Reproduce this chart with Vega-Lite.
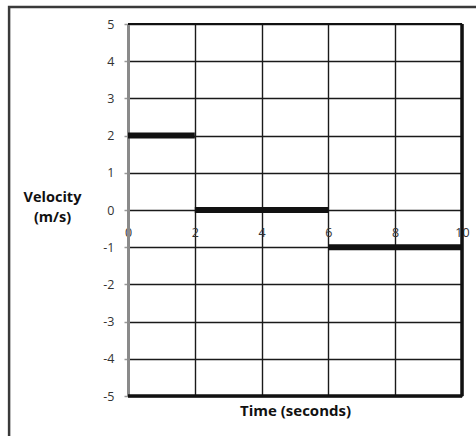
{
  "$schema": "https://vega.github.io/schema/vega-lite/v6.json",
  "width": 334,
  "height": 372,
  "autosize": "none",
  "padding": {"left": 128, "top": 24, "right": 14, "bottom": 40},
  "background": "white",
  "config": {"view": {"stroke": null}, "font": "Open Sans"},
  "resolve": {"axis": {"x": "independent", "y": "independent"}},
  "layer": [
    {
      "data": {"values": [{}]},
      "mark": {"type": "rect", "fill": null, "stroke": "#3a3a3a", "strokeWidth": 2.5},
      "encoding": {
        "x": {"datum": -3.56, "type": "quantitative", "scale": {"domain": [0, 10]},
          "axis": {"orient": "bottom", "labels": false, "ticks": false, "domain": false, "grid": false, "title": "Time (seconds)", "titleFontSize": 15, "titleFontWeight": "bold", "titleColor": "#111", "titlePadding": 7}},
        "x2": {"datum": 12},
        "y": {"datum": 5.457, "type": "quantitative", "scale": {"domain": [-5, 5]},
          "axis": {"orient": "left", "labels": false, "ticks": false, "domain": false, "grid": false, "title": "(m/s)", "titleAngle": 0, "titleAlign": "center", "titleBaseline": "top", "titleX": -76, "titleY": 186, "titleFontSize": 14.5, "titleFontWeight": "bold", "titleColor": "#111"}},
        "y2": {"datum": -7}
      }
    },
    {
      "data": {"values": [
        {"t0": 0, "t1": 2, "v": 2},
        {"t0": 2, "t1": 6, "v": 0},
        {"t0": 6, "t1": 10, "v": -1}
      ]},
      "mark": {"type": "rule", "color": "#111", "strokeWidth": 6, "strokeCap": "butt"},
      "encoding": {
        "x": {"field": "t0", "type": "quantitative", "scale": {"domain": [0, 10]},
          "axis": {"orient": "bottom", "values": [0, 2, 4, 6, 8, 10], "grid": true, "gridColor": "#1a1a1a", "gridWidth": 1.4, "domain": false, "ticks": false, "offset": -186, "labelPadding": 16, "labelFontSize": 12.5, "labelColor": "#333", "labelOverlap": false, "labelFlush": false, "title": null}},
        "x2": {"field": "t1"},
        "y": {"field": "v", "type": "quantitative", "scale": {"domain": [-5, 5]},
          "axis": {"orient": "left", "values": [-5, -4, -3, -2, -1, 0, 1, 2, 3, 4, 5], "labelExpr": "replace(datum.label, '−', '-')", "grid": true, "gridColor": "#1a1a1a", "gridWidth": 1.4, "domainColor": "#8a8a8a", "domainWidth": 3, "tickColor": "#999", "tickSize": 4, "tickWidth": 1.5, "labelFontSize": 12.5, "labelColor": "#333", "labelPadding": 10, "labelOverlap": false, "title": "Velocity", "titleAngle": 0, "titleAlign": "center", "titleBaseline": "top", "titleX": -76, "titleY": 166, "titleFontSize": 14.5, "titleFontWeight": "bold", "titleColor": "#111"}}
      }
    },
    {
      "data": {"values": [{}]},
      "mark": {"type": "rule", "color": "#111", "strokeWidth": 2},
      "encoding": {
        "x": {"datum": 0, "type": "quantitative", "scale": {"domain": [0, 10]}, "axis": null},
        "x2": {"datum": 10},
        "y": {"datum": 5, "type": "quantitative", "scale": {"domain": [-5, 5]}, "axis": null}
      }
    },
    {
      "data": {"values": [{}]},
      "mark": {"type": "rule", "color": "#111", "strokeWidth": 3.5},
      "encoding": {
        "x": {"datum": 0, "type": "quantitative", "scale": {"domain": [0, 10]}, "axis": null},
        "x2": {"datum": 10},
        "y": {"datum": -5, "type": "quantitative", "scale": {"domain": [-5, 5]}, "axis": null}
      }
    },
    {
      "data": {"values": [{}]},
      "mark": {"type": "rule", "color": "#111", "strokeWidth": 3.5},
      "encoding": {
        "x": {"datum": 10, "type": "quantitative", "scale": {"domain": [0, 10]}, "axis": null},
        "y": {"datum": -5, "type": "quantitative", "scale": {"domain": [-5, 5]}, "axis": null},
        "y2": {"datum": 5}
      }
    }
  ]
}
